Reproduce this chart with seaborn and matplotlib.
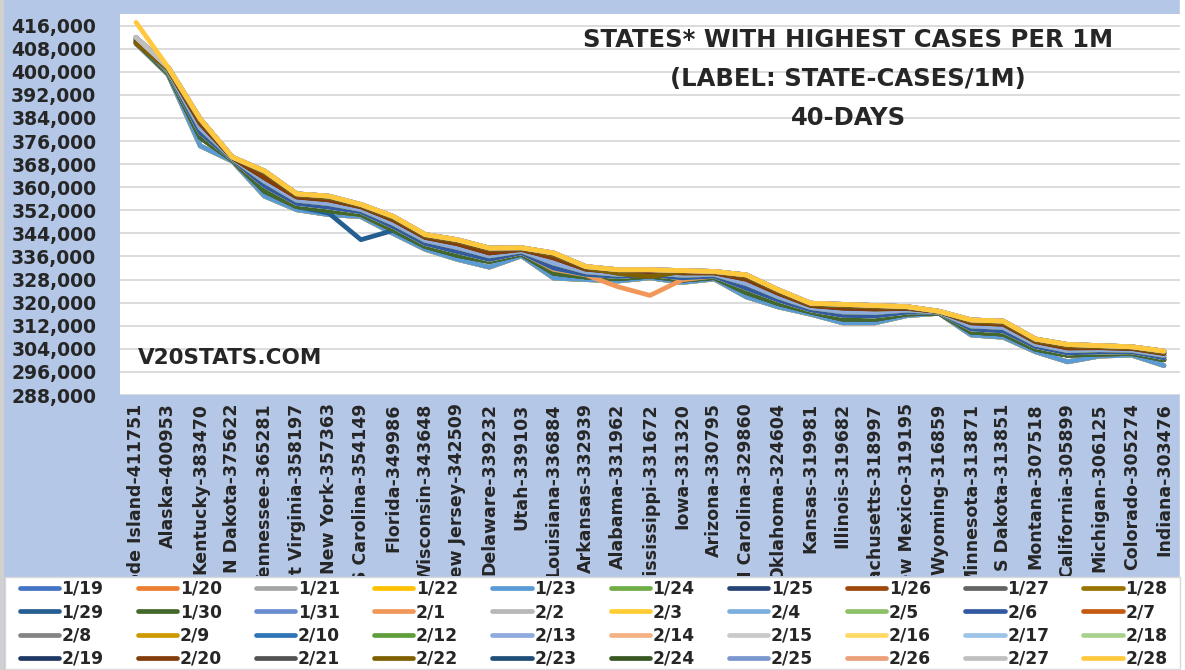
import pandas as pd
import matplotlib
matplotlib.use("Agg")
import matplotlib.pyplot as plt
from matplotlib.lines import Line2D
from matplotlib.patches import Rectangle
from matplotlib.transforms import Bbox, TransformedBbox
from matplotlib.ticker import FuncFormatter, MultipleLocator
import seaborn as sns

# States in chart order, label = state-cases/1M
states = ["Rhode Island-411751", "Alaska-400953", "Kentucky-383470", "N Dakota-375622",
          "Tennessee-365281", "West Virginia-358197", "New York-357363", "S Carolina-354149",
          "Florida-349986", "Wisconsin-343648", "New Jersey-342509", "Delaware-339232",
          "Utah-339103", "Louisiana-336884", "Arkansas-332939", "Alabama-331962",
          "Mississippi-331672", "Iowa-331320", "Arizona-330795", "N Carolina-329860",
          "Oklahoma-324604", "Kansas-319981", "Illinois-319682", "Massachusetts-318997",
          "New Mexico-319195", "Wyoming-316859", "Minnesota-313871", "S Dakota-313851",
          "Montana-307518", "California-305899", "Michigan-306125", "Colorado-305274",
          "Indiana-303476"]

# cases per 1M (thousands), one list per reporting week
week_0119 = [409.8, 399.0, 374.3, 369.0, 356.9, 352.2, 350.5, 349.8, 344.0, 338.5, 335.0,
             332.3, 336.2, 328.5, 328.0, 327.5, 328.6, 327.0, 328.2, 322.0, 318.5, 316.0,
             313.0, 313.0, 315.5, 316.3, 308.8, 308.0, 303.0, 299.5, 301.5, 301.8, 298.2]
week_0124 = [410.2, 399.5, 377.2, 369.4, 358.6, 353.3, 351.8, 350.6, 345.2, 339.5, 336.4,
             334.3, 336.8, 330.2, 328.9, 328.3, 329.2, 327.8, 328.7, 323.5, 319.7, 316.8,
             314.3, 314.2, 316.1, 316.4, 309.8, 309.1, 303.9, 301.8, 302.2, 302.4, 300.2]
week_0131 = [410.8, 400.0, 378.9, 369.7, 360.5, 354.4, 353.1, 351.5, 346.4, 340.5, 337.7,
             335.0, 337.3, 332.0, 329.8, 329.1, 329.7, 328.6, 329.2, 325.0, 320.9, 317.5,
             315.6, 315.4, 316.7, 316.6, 310.9, 310.2, 304.8, 302.6, 302.9, 303.0, 300.9]
week_0207 = [411.3, 400.4, 380.5, 370.0, 362.0, 355.5, 354.3, 352.3, 347.5, 341.6, 339.1,
             336.2, 337.9, 333.7, 330.7, 329.8, 330.3, 329.5, 329.8, 326.6, 322.0, 318.3,
             316.8, 316.6, 317.4, 316.7, 311.9, 311.4, 305.6, 303.4, 303.7, 303.5, 301.7]
week_0214 = [410.4, 400.9, 382.0, 370.2, 363.2, 356.6, 355.6, 353.2, 348.7, 342.6, 340.4,
             337.2, 338.4, 335.5, 331.6, 330.6, 330.8, 330.3, 330.3, 328.1, 323.2, 319.0,
             318.1, 317.8, 318.0, 316.9, 313.0, 312.5, 306.5, 304.3, 304.4, 304.1, 302.4]
week_0221 = [409.9, 401.0, 383.0, 370.3, 365.0, 357.2, 356.4, 353.6, 349.4, 343.1, 341.3,
             338.4, 338.7, 336.6, 332.1, 330.2, 329.0, 330.8, 330.6, 329.1, 323.9, 319.4,
             318.9, 318.5, 318.3, 316.9, 313.5, 313.1, 306.9, 305.0, 304.7, 304.4, 302.8]
week_0223 = [411.9, 401.5, 383.6, 370.4, 365.6, 357.7, 356.9, 354.0, 349.9, 343.6, 341.8,
             338.9, 339.0, 337.2, 332.5, 331.4, 331.4, 331.1, 330.8, 329.6, 324.4, 319.8,
             319.4, 319.0, 318.6, 317.0, 314.0, 313.6, 307.4, 305.5, 305.1, 304.7, 303.2]
# odd days
day_0129 = [410.2, 399.5, 377.2, 369.4, 358.6, 353.3, 351.0, 341.8, 345.0, 339.5, 336.4,
            334.3, 336.8, 330.2, 328.9, 328.3, 329.2, 327.8, 328.7, 323.5, 319.7, 316.8,
            314.3, 314.2, 316.1, 316.4, 309.8, 309.1, 303.9, 301.8, 302.2, 302.4, 300.2]
day_0201 = [410.8, 400.0, 378.9, 369.7, 360.5, 354.4, 353.1, 351.5, 346.4, 340.5, 337.7,
            335.0, 337.3, 331.5, 329.6, 325.5, 322.5, 327.9, 329.2, 325.0, 320.9, 317.5,
            315.6, 315.4, 316.7, 316.6, 310.9, 310.2, 304.8, 302.6, 302.9, 303.0, 300.9]
day_0228 = [417.1, 401.5, 383.6, 370.4, 365.6, 357.7, 356.9, 354.0, 349.9, 343.6, 341.8,
            338.9, 339.0, 337.2, 332.5, 331.4, 331.4, 331.1, 330.8, 329.6, 324.4, 319.8,
            319.4, 319.0, 318.6, 317.0, 314.0, 313.6, 307.4, 305.5, 305.1, 304.7, 303.2]

dates = ["1/19", "1/20", "1/21", "1/22", "1/23", "1/24", "1/25", "1/26", "1/27", "1/28",
         "1/29", "1/30", "1/31", "2/1", "2/2", "2/3", "2/4", "2/5", "2/6", "2/7",
         "2/8", "2/9", "2/10", "2/12", "2/13", "2/14", "2/15", "2/16", "2/17", "2/18",
         "2/19", "2/20", "2/21", "2/22", "2/23", "2/24", "2/25", "2/26", "2/27", "2/28"]

date_rows = {"1/19": week_0119, "1/20": week_0119, "1/21": week_0119, "1/22": week_0119,
             "1/23": week_0119, "1/24": week_0124, "1/25": week_0124, "1/26": week_0124,
             "1/27": week_0124, "1/28": week_0124, "1/29": day_0129, "1/30": week_0124,
             "1/31": week_0131, "2/1": day_0201, "2/2": week_0131, "2/3": week_0131,
             "2/4": week_0131, "2/5": week_0131, "2/6": week_0131, "2/7": week_0207,
             "2/8": week_0207, "2/9": week_0207, "2/10": week_0207, "2/12": week_0207,
             "2/13": week_0207, "2/14": week_0214, "2/15": week_0214, "2/16": week_0214,
             "2/17": week_0214, "2/18": week_0214, "2/19": week_0214, "2/20": week_0214,
             "2/21": week_0221, "2/22": week_0221, "2/23": week_0223, "2/24": week_0223,
             "2/25": week_0223, "2/26": week_0223, "2/27": week_0223, "2/28": day_0228}

colors = ["#4472C4", "#ED7D31", "#A5A5A5", "#FFC000", "#5B9BD5", "#70AD47", "#264478",
          "#9E480E", "#636363", "#997300", "#255E91", "#43682B", "#698ED0", "#F1975A",
          "#B7B7B7", "#FFCD33", "#7CAFDD", "#8CC168", "#335AA1", "#C55A11", "#848484",
          "#CC9A00", "#2E75B6", "#5F9E3A", "#8FAADC", "#F4B183", "#C9C9C9", "#FFD966",
          "#9DC3E6", "#A9D18E", "#203864", "#843C0C", "#525252", "#7F6000", "#1F4E79",
          "#385723", "#7A97D0", "#EBA07A", "#BFBFBF", "#FFC83D"]

rows = []
for d in dates:
    for st, v in zip(states, date_rows[d]):
        rows.append({"state": st, "date": d, "cases": v * 1000})
df = pd.DataFrame(rows)

sns.set_style("white")
plt.rcParams["font.family"] = ["DejaVu Sans"]

W, H = 1185, 670
fig = plt.figure(figsize=(W / 100, H / 100), dpi=100, facecolor="#B4C7E7")
fig.patches.append(Rectangle((1180 / W, 0), 5 / W, 1, transform=fig.transFigure,
                             color="white", zorder=-1))
fig.patches.append(Rectangle((0, 0), 3 / W, 1, transform=fig.transFigure,
                             color="#D0D0D0", zorder=-1))

ax = fig.add_axes([120 / W, 1 - 395 / H, 1060 / W, 381 / H])
ax.set_facecolor("white")

sns.lineplot(data=df, x="state", y="cases", hue="date", hue_order=dates,
             palette=colors, sort=False, errorbar=None, linewidth=3.4,
             legend=False, ax=ax, solid_capstyle="round", solid_joinstyle="round")

ax.set_xlim(-0.5, len(states) - 0.5)
ax.set_ylim(288000, 420000)
ax.yaxis.set_major_locator(MultipleLocator(8000))
ax.yaxis.set_major_formatter(FuncFormatter(lambda v, p: f"{v:,.0f}"))
ax.set_xticks(range(len(states)))
ax.set_xticklabels(states, rotation=90, fontsize=12.5, fontweight="bold")
for t in ax.get_yticklabels():
    t.set_fontweight("bold")
ax.tick_params(axis="y", length=0, pad=17, labelsize=13.5)
ax.tick_params(axis="x", length=0, pad=6)
ax.grid(axis="y", color="#D9D9D9", linewidth=1.3)
ax.set_axisbelow(True)
for s in ax.spines.values():
    s.set_visible(False)
ax.set_xlabel("")
ax.set_ylabel("")

# long category labels get cut off by the legend box, like in Excel
clip = TransformedBbox(Bbox([[0, 1 - 576 / H], [1, 1 - 396 / H]]), fig.transFigure)
for t in ax.get_xticklabels():
    t.set_clip_box(clip)
    t.set_clip_on(True)

# title block and watermark
tx = 848 / W
fig.text(tx, 1 - 40 / H, "STATES* WITH HIGHEST CASES PER 1M", ha="center", va="center",
         fontsize=17.5, fontweight="bold")
fig.text(tx, 1 - 79 / H, "(LABEL: STATE-CASES/1M)", ha="center", va="center",
         fontsize=17.5, fontweight="bold")
fig.text(tx, 1 - 118 / H, "40-DAYS", ha="center", va="center",
         fontsize=17.5, fontweight="bold")
fig.text(138 / W, 1 - 358 / H, "V20STATS.COM", ha="left", va="center",
         fontsize=15.5, fontweight="bold")

# legend box, entries filled row by row like Excel
fig.patches.append(Rectangle((5 / W, 1 / H), 1175 / W, 92 / H, transform=fig.transFigure,
                             facecolor="white", edgecolor="#D9D9D9", linewidth=1, zorder=4))
handles = [Line2D([0], [0], color=c, lw=3.4, solid_capstyle="round") for c in colors]
order = [r * 10 + c for c in range(10) for r in range(4)]
leg = fig.legend([handles[i] for i in order], [dates[i] for i in order], ncol=10,
                 loc="upper left", bbox_to_anchor=(17 / W, 2 / H, 1153 / W, (H - 579) / H),
                 mode="expand", frameon=False, prop={"weight": "bold", "size": 12.3},
                 handlelength=2.3, handletextpad=0.15, labelspacing=0.32, borderpad=0.15,
                 borderaxespad=0)

fig.savefig("out.png", dpi=100, facecolor=fig.get_facecolor())
